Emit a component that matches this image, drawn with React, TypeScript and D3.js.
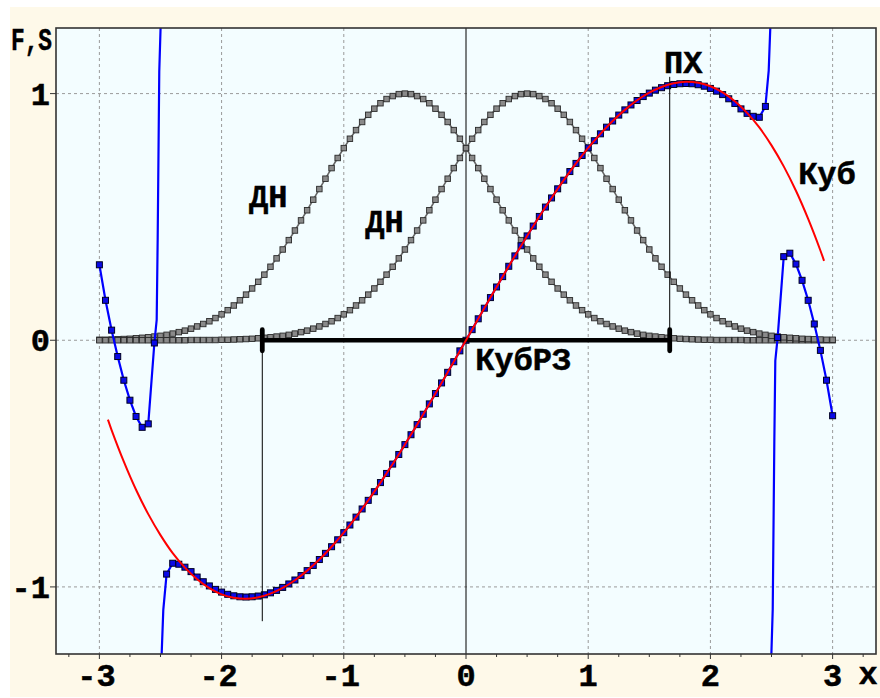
import React from 'react';
import * as d3 from 'd3';

// ---------- data ----------
// sample grid for the marker series (x from -3 to 3, step 0.05)
const X_GRID: number[] = d3.range(121).map((i) => +(-3 + i * 0.05).toFixed(2));

// ДН (left bell, centred at -0.5)
const DN_LEFT: number[] = [
  0.002, 0.002, 0.003, 0.004, 0.005, 0.006, 0.008, 0.010, 0.012, 0.015,
  0.018, 0.022, 0.027, 0.033, 0.039, 0.047, 0.056, 0.066, 0.077, 0.090,
  0.105, 0.122, 0.141, 0.162, 0.185, 0.210, 0.237, 0.266, 0.298, 0.332,
  0.368, 0.406, 0.445, 0.486, 0.527, 0.570, 0.613, 0.655, 0.698, 0.739,
  0.779, 0.817, 0.852, 0.885, 0.914, 0.939, 0.961, 0.978, 0.990, 0.998,
  1.000,
  0.998, 0.990, 0.978, 0.961, 0.939, 0.914, 0.885, 0.852, 0.817, 0.779,
  0.739, 0.698, 0.655, 0.613, 0.570, 0.527, 0.486, 0.445, 0.406, 0.368,
  0.332, 0.298, 0.266, 0.237, 0.210, 0.185, 0.162, 0.141, 0.122, 0.105,
  0.090, 0.077, 0.066, 0.056, 0.047, 0.039, 0.033, 0.027, 0.022, 0.018,
  0.015, 0.012, 0.010, 0.008, 0.006, 0.005, 0.004, 0.003, 0.002, 0.002,
  0.001, 0.001, 0.001, 0.001, 0.001, 0, 0, 0, 0, 0,
  0, 0, 0, 0, 0, 0, 0, 0, 0, 0,
];

// ДН (right bell, centred at +0.5)
const DN_RIGHT: number[] = [
  0, 0, 0, 0, 0, 0, 0, 0, 0, 0,
  0, 0, 0, 0, 0, 0.001, 0.001, 0.001, 0.001, 0.001,
  0.002, 0.002, 0.003, 0.004, 0.005, 0.006, 0.008, 0.010, 0.012, 0.015,
  0.018, 0.022, 0.027, 0.033, 0.039, 0.047, 0.056, 0.066, 0.077, 0.090,
  0.105, 0.122, 0.141, 0.162, 0.185, 0.210, 0.237, 0.266, 0.298, 0.332,
  0.368, 0.406, 0.445, 0.486, 0.527, 0.570, 0.613, 0.655, 0.698, 0.739,
  0.779, 0.817, 0.852, 0.885, 0.914, 0.939, 0.961, 0.978, 0.990, 0.998,
  1.000,
  0.998, 0.990, 0.978, 0.961, 0.939, 0.914, 0.885, 0.852, 0.817, 0.779,
  0.739, 0.698, 0.655, 0.613, 0.570, 0.527, 0.486, 0.445, 0.406, 0.368,
  0.332, 0.298, 0.266, 0.237, 0.210, 0.185, 0.162, 0.141, 0.122, 0.105,
  0.090, 0.077, 0.066, 0.056, 0.047, 0.039, 0.033, 0.027, 0.022, 0.018,
  0.015, 0.012, 0.010, 0.008, 0.006, 0.005, 0.004, 0.003, 0.002, 0.002,
];

// КубРЗ (blue markers), null = pole
const BLUE: (number | null)[] = [
  0.306, 0.162, 0.041, -0.066, -0.162, -0.243, -0.309, -0.353, -0.339, -0.011,
  null, -0.948, -0.904, -0.908, -0.920, -0.938, -0.960, -0.979, -0.996, -1.010,
  -1.021, -1.030, -1.036, -1.040, -1.041, -1.040, -1.037, -1.032, -1.024, -1.014,
  -1.002, -0.988, -0.972, -0.954, -0.934, -0.913, -0.889, -0.864, -0.837, -0.809,
  -0.780, -0.749, -0.717, -0.684, -0.649, -0.614, -0.577, -0.540, -0.502, -0.463,
  -0.423, -0.383, -0.342, -0.300, -0.258, -0.216, -0.173, -0.130, -0.087, -0.043,
  0,
  0.043, 0.087, 0.130, 0.173, 0.216, 0.258, 0.300, 0.342, 0.383, 0.423,
  0.463, 0.502, 0.540, 0.577, 0.614, 0.649, 0.684, 0.717, 0.749, 0.780,
  0.809, 0.837, 0.864, 0.889, 0.913, 0.934, 0.954, 0.972, 0.988, 1.002,
  1.014, 1.024, 1.032, 1.037, 1.040, 1.041, 1.040, 1.036, 1.030, 1.021,
  1.010, 0.996, 0.979, 0.960, 0.938, 0.920, 0.908, 0.904, 0.948, null,
  0.011, 0.339, 0.353, 0.309, 0.243, 0.162, 0.066, -0.041, -0.162, -0.306,
];
// extra line points of the blue curve next to its poles
const BLUE_POLE_X: number[] = [-2.531, -2.523, -2.51, -2.496, -2.494, -2.477, 2.477, 2.494, 2.496, 2.51, 2.523, 2.531];
const BLUE_POLE_Y: number[] = [0.083, 0.41, 1.09, 1.32, -1.32, -1.093, 1.093, 1.32, -1.32, -1.09, -0.41, -0.083];
const BLUE_BREAKS: number[] = [-2.495, 2.495];

// Куб (red smooth curve)
const RED_X: number[] = [
  -2.93, -2.9, -2.8, -2.7, -2.6, -2.5, -2.4, -2.3, -2.2, -2.1, -2.0, -1.9, -1.8, -1.7, -1.6, -1.5,
  -1.4, -1.3, -1.2, -1.1, -1.0, -0.9, -0.8, -0.7, -0.6, -0.5, -0.4, -0.3, -0.2, -0.1, 0,
  0.1, 0.2, 0.3, 0.4, 0.5, 0.6, 0.7, 0.8, 0.9, 1.0, 1.1, 1.2, 1.3, 1.4, 1.5,
  1.6, 1.7, 1.8, 1.9, 2.0, 2.1, 2.2, 2.3, 2.4, 2.5, 2.6, 2.7, 2.8, 2.9, 2.93,
];
const RED_Y: number[] = [
  -0.322, -0.364, -0.492, -0.606, -0.705, -0.790, -0.863, -0.922, -0.969, -1.005, -1.030, -1.044, -1.048, -1.042, -1.027, -1.004,
  -0.973, -0.934, -0.889, -0.837, -0.780, -0.717, -0.649, -0.577, -0.502, -0.423, -0.342, -0.258, -0.173, -0.087, 0,
  0.087, 0.173, 0.258, 0.342, 0.423, 0.502, 0.577, 0.649, 0.717, 0.780, 0.837, 0.889, 0.934, 0.973, 1.004,
  1.027, 1.042, 1.048, 1.044, 1.030, 1.005, 0.969, 0.922, 0.863, 0.790, 0.705, 0.606, 0.492, 0.364, 0.322,
];

// interval bar and markers
const BAR_X: number[] = [-1.667, 1.667];
const MARK_LINE_X: number[] = [-1.667, 1.667];
const MARK_LINE_Y_END: number[] = [-1.139, 1.068];

// axes
const X_TICKS: number[] = [-3, -2, -1, 0, 1, 2, 3];
const X_TICK_LABELS: string[] = ['-3', '-2', '-1', '0', '1', '2', '3'];
const X_MINOR: number[] = d3.range(-13, 14).map((i) => i * 0.25);
const Y_TICKS: number[] = [-1, 0, 1];
const Y_TICK_LABELS: string[] = ['-1', '0', '1'];
const X_GRID_LINES: number[] = [-3, -2, -1, 1, 2, 3];
const Y_GRID_LINES: number[] = [-1, 0, 1];

// annotations (data coordinates of the text start / baseline)
const LABEL_TEXT: string[] = ['ДН', 'ДН', 'ПХ', 'Куб', 'КубРЗ'];
const LABEL_X: number[] = [-1.775, -0.825, 1.62, 2.718, 0.075];
const LABEL_Y: number[] = [0.54, 0.439, 1.083, 0.634, -0.12];

const FONT = "'Liberation Mono', 'Courier New', monospace";

export default function App() {
  const left = 56, right = 876, top = 28, bottom = 654;
  const x = d3.scaleLinear().domain([-3.355, 3.355]).range([left, right]);
  const y = d3.scaleLinear().domain([-1.272, 1.266]).range([bottom, top]);

  const bellLine = d3
    .line<[number, number]>()
    .x((d) => x(d[0]))
    .y((d) => y(d[1]));
  const leftPts: [number, number][] = X_GRID.map((xv, i) => [xv, DN_LEFT[i]]);
  const rightPts: [number, number][] = X_GRID.map((xv, i) => [xv, DN_RIGHT[i]]);

  type P = { x: number; y: number | null };
  const bluePts: P[] = [];
  X_GRID.forEach((xv, i) => {
    if (BLUE[i] !== null) bluePts.push({ x: xv, y: BLUE[i] });
  });
  BLUE_POLE_X.forEach((xv, i) => bluePts.push({ x: xv, y: BLUE_POLE_Y[i] }));
  BLUE_BREAKS.forEach((xv) => bluePts.push({ x: xv, y: null }));
  bluePts.sort((a, b) => a.x - b.x);
  const blueLine = d3
    .line<P>()
    .defined((d) => d.y !== null)
    .x((d) => x(d.x))
    .y((d) => y(d.y as number));
  const blueMarkers = X_GRID.map((xv, i) => ({ x: xv, y: BLUE[i] })).filter((d) => d.y !== null);

  const redLine = d3
    .line<number>()
    .x((d) => x(d))
    .y((_, i) => y(RED_Y[i]))
    .curve(d3.curveCatmullRom);

  const ms = 5.5;
  const bms = 6;

  return (
    <div style={{ position: 'absolute', left: 0, top: 0 }}>
      <svg width={880} height={698} style={{ display: 'block' }}>
        <defs>
          <clipPath id="plotclip">
            <rect x={left} y={top} width={right - left} height={bottom - top} />
          </clipPath>
        </defs>
        <rect x={0} y={0} width={880} height={698} fill="#ffffff" />
        <rect x={10} y={7} width={870} height={690} fill="#fef9e9" />
        <rect x={left} y={top} width={right - left} height={bottom - top} fill="#f3fdff" />

        {/* grid */}
        <g stroke="#9a9a9a" strokeWidth={1} strokeDasharray="3,3">
          {X_GRID_LINES.map((v) => (
            <line key={'gx' + v} x1={x(v)} x2={x(v)} y1={top} y2={bottom} />
          ))}
          {Y_GRID_LINES.map((v) => (
            <line key={'gy' + v} x1={left} x2={right} y1={y(v)} y2={y(v)} />
          ))}
        </g>

        <g clipPath="url(#plotclip)">
          {/* vertical axis line at x = 0 */}
          <line x1={x(0)} x2={x(0)} y1={top} y2={bottom} stroke="#000" strokeWidth={1} />

          {/* ДН bells */}
          {[leftPts, rightPts].map((pts, k) => (
            <g key={'bell' + k}>
              <path d={bellLine(pts) || ''} fill="none" stroke="#666" strokeWidth={1.6} />
              {pts.map((p, i) => (
                <rect
                  key={i}
                  x={x(p[0]) - ms / 2}
                  y={y(p[1]) - ms / 2}
                  width={ms}
                  height={ms}
                  fill="#8a8a8a"
                  stroke="#2a2a2a"
                  strokeWidth={0.9}
                />
              ))}
            </g>
          ))}

          {/* КубРЗ blue */}
          <path d={blueLine(bluePts) || ''} fill="none" stroke="#0000ff" strokeWidth={2.2} />
          {blueMarkers.map((p, i) => (
            <rect
              key={'b' + i}
              x={x(p.x) - bms / 2}
              y={y(p.y as number) - bms / 2}
              width={bms}
              height={bms}
              fill="#0a0ae6"
              stroke="#000022"
              strokeWidth={1}
            />
          ))}

          {/* interval bar with caps and marker lines */}
          <line x1={x(BAR_X[0])} x2={x(BAR_X[1])} y1={y(0)} y2={y(0)} stroke="#000" strokeWidth={4.5} />
          {BAR_X.map((v) => (
            <rect key={'cap' + v} x={x(v) - 2.4} y={y(0) - 13} width={4.8} height={26} rx={2.4} fill="#000" />
          ))}
          {MARK_LINE_X.map((v, i) => (
            <line key={'ml' + v} x1={x(v)} x2={x(v)} y1={y(0)} y2={y(MARK_LINE_Y_END[i])} stroke="#000" strokeWidth={1} />
          ))}

          {/* Куб red */}
          <path d={redLine(RED_X) || ''} fill="none" stroke="#ff0000" strokeWidth={2} />
        </g>

        {/* frame */}
        <rect x={left} y={top} width={right - left} height={bottom - top} fill="none" stroke="#333" strokeWidth={1.6} />

        {/* x ticks */}
        <g stroke="#333" strokeWidth={1}>
          {X_MINOR.map((v) => (
            <line key={'mt' + v} x1={x(v)} x2={x(v)} y1={bottom} y2={bottom + (Number.isInteger(v) ? 5 : 3)} />
          ))}
          {Y_TICKS.map((v) => (
            <line key={'yt' + v} x1={left - 6} x2={left} y1={y(v)} y2={y(v)} />
          ))}
        </g>

        <g fontFamily={FONT} fontWeight="bold" fontSize={32} fill="#000" stroke="#000" strokeWidth={0.5}>
          {X_TICKS.map((v, i) => (
            <text key={'xl' + v} x={x(v) + (v < 0 ? -3 : 0)} y={686} textAnchor="middle">
              {X_TICK_LABELS[i]}
            </text>
          ))}
          {Y_TICKS.map((v, i) => (
            <text key={'yl' + v} x={50} y={y(v) + 11} textAnchor="end">
              {Y_TICK_LABELS[i]}
            </text>
          ))}
          <text x={868} y={684} textAnchor="middle">x</text>
          <text x={11} y={50} textLength={41} lengthAdjust="spacingAndGlyphs">F,S</text>
          {LABEL_TEXT.map((t, i) => (
            <text key={'lab' + i} x={x(LABEL_X[i])} y={y(LABEL_Y[i])}>
              {t}
            </text>
          ))}
        </g>
      </svg>
    </div>
  );
}
